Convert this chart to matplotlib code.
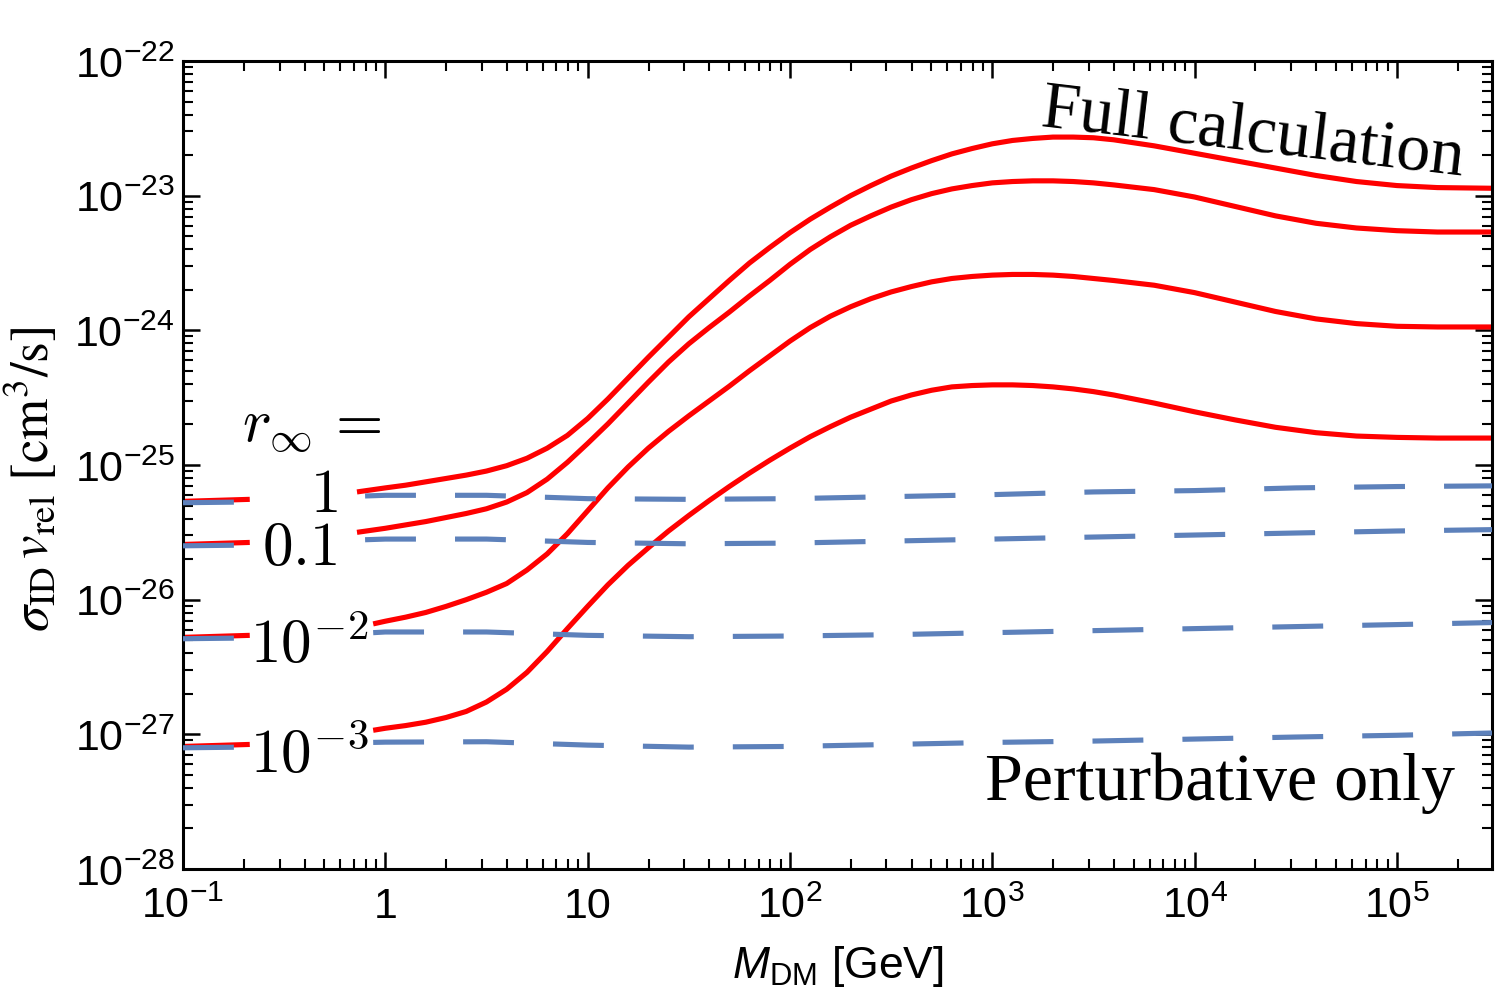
import numpy as np
import matplotlib
matplotlib.use("Agg")
import matplotlib.pyplot as plt
from matplotlib.ticker import FixedLocator, LogLocator, NullFormatter

# Arial-like text for ticks and the x label
plt.rcParams["font.family"] = ["Liberation Sans", "DejaVu Sans"]
plt.rcParams["mathtext.fontset"] = "custom"
plt.rcParams["mathtext.rm"] = "Liberation Sans"
plt.rcParams["mathtext.it"] = "Liberation Sans:italic"
plt.rcParams["mathtext.bf"] = "Liberation Sans:bold"

# labels for the four r_inf values (top curve first)
r_labels = ["$1$", "$0.1$", r"$10^{-2}$", r"$10^{-3}$"]

# all numbers below are log10 values
# x: log10(M_DM / GeV), y: log10(sigma v / (cm^3/s))

# short pieces at the left edge, before the r_inf labels
stub_x_red = [-1.0, -0.67]
stub_x_blue = [-1.0, -0.70]

# full calculation (red), main part after the labels
red_start_x = [-0.14, -0.14, -0.06, -0.06]
red_x = [0.0, 0.1, 0.2, 0.3, 0.4, 0.5, 0.6, 0.7, 0.8, 0.9,
         1.0, 1.1, 1.2, 1.3, 1.4, 1.5, 1.6, 1.7, 1.8, 1.9,
         2.0, 2.1, 2.2, 2.3, 2.4, 2.5, 2.6, 2.7, 2.8, 2.9,
         3.0, 3.1, 3.2, 3.3, 3.4, 3.5, 3.6,
         3.8, 4.0, 4.2, 4.4, 4.6, 4.8, 5.0, 5.2, 5.47]

red_stub_1 = [-25.27, -25.255]
red_start_1 = -25.20
red_1 = [-25.17, -25.15, -25.125, -25.10, -25.075, -25.045, -25.005, -24.95, -24.875, -24.78,
         -24.655, -24.51, -24.355, -24.20, -24.05, -23.90, -23.765, -23.63, -23.50, -23.385,
         -23.275, -23.175, -23.085, -23.00, -22.925, -22.855, -22.795, -22.74, -22.69, -22.65,
         -22.615, -22.59, -22.575, -22.565, -22.565, -22.57, -22.585,
         -22.63, -22.685, -22.74, -22.795, -22.85, -22.895, -22.925, -22.94, -22.945]

red_stub_2 = [-25.59, -25.575]
red_start_2 = -25.50
red_2 = [-25.47, -25.445, -25.42, -25.39, -25.36, -25.325, -25.275, -25.205, -25.105, -24.98,
         -24.84, -24.695, -24.54, -24.385, -24.235, -24.10, -23.98, -23.865, -23.745, -23.63,
         -23.51, -23.40, -23.305, -23.22, -23.15, -23.085, -23.03, -22.985, -22.95, -22.925,
         -22.905, -22.895, -22.89, -22.89, -22.895, -22.905, -22.92,
         -22.955, -23.01, -23.08, -23.15, -23.205, -23.24, -23.26, -23.27, -23.27]

red_stub_3 = [-26.28, -26.265]
red_start_3 = -26.18
red_3 = [-26.16, -26.13, -26.095, -26.05, -26.00, -25.945, -25.88, -25.78, -25.66, -25.51,
         -25.34, -25.17, -25.015, -24.875, -24.75, -24.635, -24.525, -24.415, -24.30, -24.19,
         -24.08, -23.98, -23.895, -23.825, -23.765, -23.715, -23.675, -23.64, -23.615, -23.60,
         -23.59, -23.585, -23.585, -23.59, -23.60, -23.615, -23.63,
         -23.665, -23.72, -23.79, -23.86, -23.915, -23.95, -23.97, -23.975, -23.975]

red_stub_4 = [-27.09, -27.075]
red_start_4 = -26.97
red_4 = [-26.955, -26.935, -26.91, -26.875, -26.83, -26.76, -26.665, -26.54, -26.385, -26.215,
         -26.05, -25.89, -25.745, -25.615, -25.49, -25.375, -25.265, -25.16, -25.06, -24.965,
         -24.875, -24.79, -24.715, -24.645, -24.585, -24.525, -24.48, -24.445, -24.42, -24.41,
         -24.405, -24.405, -24.41, -24.42, -24.435, -24.455, -24.48,
         -24.54, -24.605, -24.665, -24.72, -24.76, -24.785, -24.795, -24.80, -24.80]

# perturbative only (blue dashed)
blue_start_x = [-0.10, -0.10, -0.06, -0.06]
blue_x = [0.0, 0.5, 1.0, 1.5, 2.0, 2.5, 3.0, 3.5, 4.0, 4.5, 5.0, 5.47]

blue_stub_1 = [-25.28, -25.275]
blue_start_1 = -25.23
blue_1 = [-25.225, -25.225, -25.25, -25.255, -25.25, -25.235, -25.22, -25.20,
          -25.19, -25.17, -25.16, -25.155]

blue_stub_2 = [-25.60, -25.595]
blue_start_2 = -25.555
blue_2 = [-25.55, -25.55, -25.575, -25.585, -25.58, -25.565, -25.55, -25.535,
          -25.52, -25.505, -25.49, -25.48]

blue_stub_3 = [-26.29, -26.285]
blue_start_3 = -26.245
blue_3 = [-26.24, -26.24, -26.265, -26.275, -26.27, -26.26, -26.245, -26.23,
          -26.215, -26.20, -26.185, -26.17]

blue_stub_4 = [-27.10, -27.095]
blue_start_4 = -27.06
blue_4 = [-27.058, -27.055, -27.08, -27.095, -27.09, -27.075, -27.06, -27.05,
          -27.035, -27.02, -27.007, -26.99]

x_ticks = [-1, 0, 1, 2, 3, 4, 5]
x_tick_labels = [r"$10^{-1}$", "1", "10", r"$10^{2}$", r"$10^{3}$", r"$10^{4}$", r"$10^{5}$"]
y_ticks = [-28, -27, -26, -25, -24, -23, -22]
y_tick_labels = [r"$10^{%d}$" % t for t in y_ticks]

red_stubs = [red_stub_1, red_stub_2, red_stub_3, red_stub_4]
red_starts = [red_start_1, red_start_2, red_start_3, red_start_4]
red_mains = [red_1, red_2, red_3, red_4]
blue_stubs = [blue_stub_1, blue_stub_2, blue_stub_3, blue_stub_4]
blue_starts = [blue_start_1, blue_start_2, blue_start_3, blue_start_4]
blue_mains = [blue_1, blue_2, blue_3, blue_4]

RED = "#ff0000"
BLUE = "#5d81bb"
DASH = (0, (9.9, 7.6))


def p10(v):
    return 10.0 ** np.asarray(v, dtype=float)


fig = plt.figure(figsize=(15, 10.04), dpi=100)
ax = fig.add_axes([183 / 1500, 1 - 870 / 1004, 1309 / 1500, 808 / 1004])

for i in range(4):
    # red: full calculation
    ax.plot(p10(stub_x_red), p10(red_stubs[i]), color=RED, lw=3.7,
            solid_capstyle="butt", solid_joinstyle="round", zorder=2)
    ax.plot(p10([red_start_x[i]] + red_x), p10([red_starts[i]] + red_mains[i]),
            color=RED, lw=3.7, solid_capstyle="butt", solid_joinstyle="round", zorder=2)
    # blue: perturbative only
    ax.plot(p10(stub_x_blue), p10(blue_stubs[i]), color=BLUE, lw=3.7,
            linestyle=DASH, dash_capstyle="butt", zorder=3)
    ax.plot(p10([blue_start_x[i]] + blue_x), p10([blue_starts[i]] + blue_mains[i]),
            color=BLUE, lw=3.7, linestyle=DASH, dash_capstyle="butt", zorder=3)

ax.set_xscale("log")
ax.set_yscale("log")
ax.set_xlim(p10(-1), p10(5.47))
ax.set_ylim(p10(-28), p10(-22))

ax.xaxis.set_major_locator(FixedLocator(p10(x_ticks)))
ax.set_xticklabels(x_tick_labels)
ax.yaxis.set_major_locator(FixedLocator(p10(y_ticks)))
ax.set_yticklabels(y_tick_labels)
for axis in (ax.xaxis, ax.yaxis):
    axis.set_minor_locator(LogLocator(base=10, subs=np.arange(2, 10), numticks=100))
    axis.set_minor_formatter(NullFormatter())

ax.tick_params(which="both", direction="in", top=True, right=True,
               labelsize=31, colors="black")
ax.tick_params(which="major", length=12, width=1.8)
ax.tick_params(which="minor", length=7, width=1.5)
ax.tick_params(axis="x", pad=12)
ax.tick_params(axis="y", pad=6)
for s in ax.spines.values():
    s.set_linewidth(2.2)

ax.set_xlabel(r"$M_{\rm DM}$ [GeV]", fontsize=32, labelpad=12)
ax.set_ylabel(r"$\sigma_{\rm ID}\,v_{\rm rel}\ [{\rm cm}^3/{\rm s}]$", fontsize=38,
              math_fontfamily="stix")
ax.yaxis.set_label_coords(-0.094, 0.484)

# r_inf labels in LaTeX style
ax.text(0.045, 0.530, r"$r_\infty\,=$", transform=ax.transAxes, fontsize=44,
        math_fontfamily="cm", ha="left", va="baseline")
label_pos = [(0.1077, 0.443, "center"), (0.0894, 0.3775, "center"),
             (0.0512, 0.256, "left"), (0.0512, 0.120, "left")]
for lab, (fx, fy, ha) in zip(r_labels, label_pos):
    ax.text(fx, fy, lab, transform=ax.transAxes, fontsize=44,
            math_fontfamily="cm", ha=ha, va="baseline")

ax.text(0.655, 0.921, "Full calculation", transform=ax.transAxes, fontsize=49,
        family="Liberation Serif", rotation=-6.7, rotation_mode="anchor",
        ha="left", va="baseline")
ax.text(0.6127, 0.0866, "Perturbative only", transform=ax.transAxes, fontsize=49,
        family="Liberation Serif", ha="left", va="baseline")

fig.savefig("out.png", dpi=100)
